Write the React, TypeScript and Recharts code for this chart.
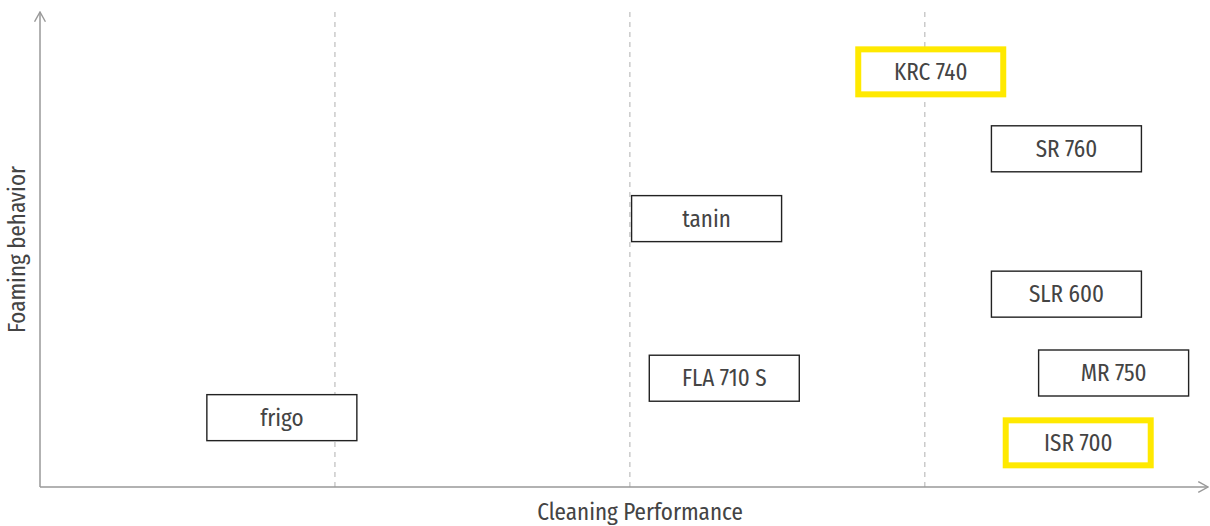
import React from 'react';
import { ScatterChart, Scatter, XAxis, YAxis, CartesianGrid } from 'recharts';

const labels = ['KRC 740', 'SR 760', 'tanin', 'SLR 600', 'FLA 710 S', 'MR 750', 'frigo', 'ISR 700'];
const cleaning = [3.02, 3.48, 2.26, 3.48, 2.32, 3.64, 0.82, 3.52];
const foaming = [8.74, 7.12, 5.65, 4.06, 2.29, 2.40, 1.46, 0.93];
const highlighted = [true, false, false, false, false, false, false, true];
const gridTicks = [1, 2, 3];
const xDomain: [number, number] = [0, 3.96];

const data = labels.map((name, i) => ({
  name,
  x: cleaning[i],
  y: foaming[i],
  hl: highlighted[i],
}));

const FONT = "'Fira Sans Condensed', 'Roboto', sans-serif";

const Box = (props: any) => {
  const { cx, cy, payload } = props;
  if (cx == null || cy == null) return null;
  const hl = payload.hl;
  const w = hl ? 145 : 150;
  const h = hl ? 45 : 46;
  return (
    <g>
      <rect
        x={cx - w / 2}
        y={cy - h / 2}
        width={w}
        height={h}
        fill="#fff"
        stroke={hl ? '#ffe900' : '#222'}
        strokeWidth={hl ? 6 : 1.4}
      />
      <text
        x={cx}
        y={cy}
        textAnchor="middle"
        dominantBaseline="central"
        fontSize={23}
        fontFamily={FONT}
        fill="#444"
      >
        {payload.name}
      </text>
    </g>
  );
};

const gridGen = (props: any) => {
  const s = props?.xAxis?.scale;
  if (typeof s === 'function') return gridTicks.map((t) => s(t));
  const off = props.offset;
  return gridTicks.map((t) => off.left + (off.width * (t - xDomain[0])) / (xDomain[1] - xDomain[0]));
};

export default function App() {
  return (
    <div style={{ position: 'absolute', left: 0, top: 0, width: 1210, height: 526 }}>
      <svg width={0} height={0} style={{ position: 'absolute' }}>
        <defs>
          <marker
            id="arrowHead"
            viewBox="0 0 12 12"
            refX={11}
            refY={6}
            markerWidth={13}
            markerHeight={13}
            markerUnits="userSpaceOnUse"
            orient="auto-start-reverse"
          >
            <path d="M2,1 L11,6 L2,11" fill="none" stroke="#999" strokeWidth={1.3} />
          </marker>
        </defs>
      </svg>
      <ScatterChart width={1210} height={526} margin={{ top: 12, right: 2, bottom: 0, left: 0 }}>
        <CartesianGrid
          vertical
          horizontal={false}
          stroke="#b0b0b0"
          strokeDasharray="5 5"
          verticalCoordinatesGenerator={gridGen}
        />
        <XAxis
          type="number"
          dataKey="x"
          domain={xDomain}
          ticks={gridTicks}
          tick={false}
          tickLine={false}
          height={39}
          axisLine={{ stroke: '#999', strokeWidth: 1.5, markerEnd: 'url(#arrowHead)' }}
          label={{
            value: 'Cleaning Performance',
            position: 'insideBottom',
            offset: 6,
            dx: 16,
            fontSize: 23,
            fontFamily: FONT,
            fill: '#444',
          }}
        />
        <YAxis
          type="number"
          dataKey="y"
          domain={[0, 10]}
          tick={false}
          tickLine={false}
          width={40}
          axisLine={{ stroke: '#999', strokeWidth: 1.5, markerStart: 'url(#arrowHead)' }}
          label={{
            value: 'Foaming behavior',
            angle: -90,
            position: 'center',
            dx: -3,
            fontSize: 23,
            fontFamily: FONT,
            fill: '#444',
          }}
        />
        <Scatter data={data} shape={Box} isAnimationActive={false} />
      </ScatterChart>
    </div>
  );
}
